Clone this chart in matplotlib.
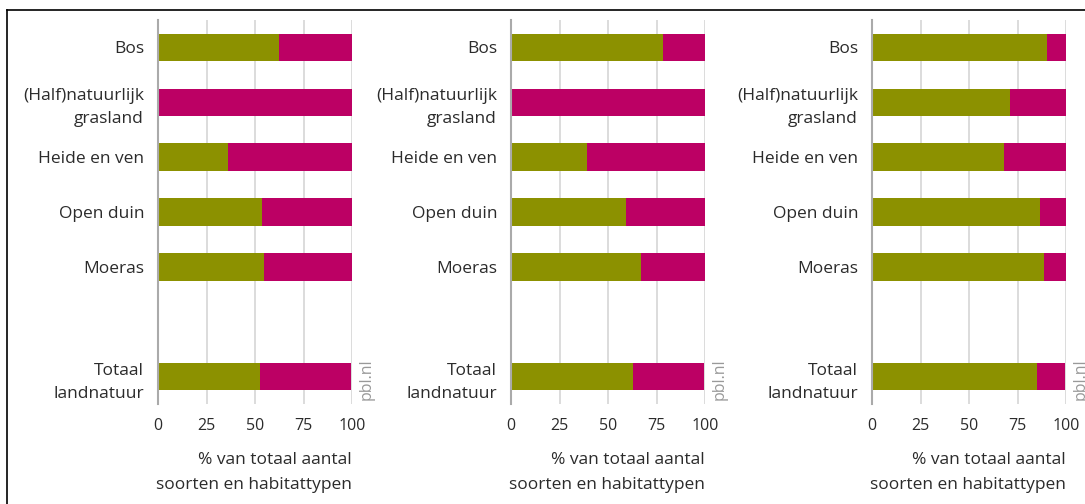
import numpy as np
import matplotlib.pyplot as plt
from matplotlib.lines import Line2D

plt.rcParams['font.family'] = ['Open Sans', 'DejaVu Sans']

# Categorieen en waarden (% van totaal aantal soorten en habitattypen)
categorieen = ['Bos', '(Half)natuurlijk\ngrasland', 'Heide en ven',
               'Open duin', 'Moeras', 'Totaal\nlandnatuur']
posities = [0, 1, 2, 3, 4, 6]

groen_1 = [62.3, 0, 36.2, 53.7, 54.7, 52.5]
groen_2 = [78.3, 0, 39.1, 59.1, 67.0, 63.0]
groen_3 = [90.2, 71.1, 67.8, 86.4, 88.6, 85.2]
totaal = [100, 100, 100, 100, 100, 99.5]

panelen = [groen_1, groen_2, groen_3]
ticks = [0, 25, 50, 75, 100]
tick_labels = ['0', '25', '50', '75', '100']

kleur_groen = '#8c9100'
kleur_rood = '#bc0064'
tekst = '#2b2b2b'

W, H = 1085, 504
fig = plt.figure(figsize=(W / 100, H / 100), dpi=100)

ax_links = [158, 511, 872]
ax_breed = 194
ax_top, ax_bodem = 20, 404

for i, groen in enumerate(panelen):
    ax = fig.add_axes([ax_links[i] / W, 1 - ax_bodem / H,
                       ax_breed / W, (ax_bodem - ax_top) / H])
    rood = [t - g for t, g in zip(totaal, groen)]
    ax.barh(posities, groen, height=0.5, color=kleur_groen, zorder=3)
    ax.barh(posities, rood, left=groen, height=0.5, color=kleur_rood, zorder=3)
    ax.set_xlim(0, 100)
    ax.set_ylim(6.5, -0.5)
    ax.set_yticks(posities)
    ax.set_yticklabels(categorieen, fontsize=12.5, color=tekst, linespacing=1.6)
    ax.set_xticks(ticks)
    ax.set_xticklabels(tick_labels, fontsize=11.5, color=tekst)
    ax.tick_params(length=0, pad=10)
    ax.tick_params(axis='y', pad=10)
    ax.grid(axis='x', color='#d6d6d6', linewidth=1.2, zorder=0)
    for s in ['top', 'right', 'bottom']:
        ax.spines[s].set_visible(False)
    ax.spines['left'].set_color('#aaaaaa')
    ax.spines['left'].set_linewidth(1.5)
    ax.spines['left'].set_zorder(4)
    ax.set_xlabel('% van totaal aantal\nsoorten en habitattypen', fontsize=12.5,
                  color=tekst, ha='right', x=1.0, labelpad=13, linespacing=1.75)
    ax.text(1.075, 0.01, 'pbl.nl', transform=ax.transAxes, rotation=90,
            fontsize=11.5, color='#999999', ha='center', va='bottom')

# kader
fig.add_artist(Line2D([7 / W, 7 / W], [0, 1 - 10 / H], color='black', lw=1.2))
fig.add_artist(Line2D([7 / W, 1], [1 - 10 / H, 1 - 10 / H], color='black', lw=1.2))

fig.savefig('out.png', dpi=100)
